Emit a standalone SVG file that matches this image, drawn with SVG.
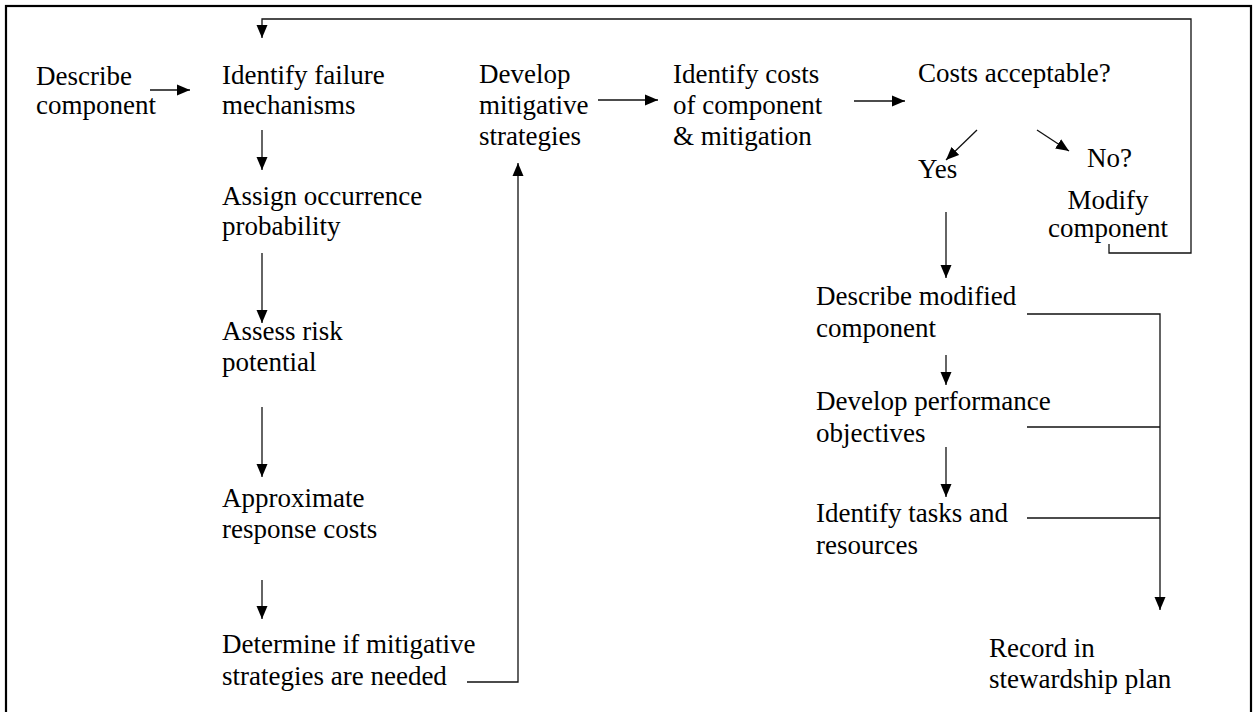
<svg xmlns="http://www.w3.org/2000/svg" width="1254" height="712" viewBox="0 0 1254 712">
  <defs>
    <marker id="head" markerUnits="userSpaceOnUse" markerWidth="14" markerHeight="12" refX="13" refY="6" orient="auto">
      <path d="M0,0.5 L13,6 L0,11.5 z" fill="#000"/>
    </marker>
    <style>
      text { font-family: "Liberation Serif", "Times New Roman", serif; font-size: 27px; fill: #000; }
      .link { fill: none; stroke: #111; stroke-width: 1.3; }
      .arrow { marker-end: url(#head); }
    </style>
  </defs>

  <rect x="0" y="0" width="1254" height="712" fill="#fff"/>
  <!-- outer frame; its lower edge runs past the page -->
  <rect x="6" y="6" width="1245" height="714" fill="none" stroke="#000" stroke-width="2.2"/>

  <g id="connectors">
    <line class="link arrow" x1="150" y1="90" x2="190" y2="90"/>
    <polyline class="link arrow" points="1109,244 1109,253 1191,253 1191,19 262,19 262,38"/>
    <line class="link arrow" x1="262" y1="130" x2="262" y2="170"/>
    <line class="link arrow" x1="262" y1="253" x2="262" y2="323"/>
    <line class="link arrow" x1="262" y1="407" x2="262" y2="477"/>
    <line class="link arrow" x1="262" y1="580" x2="262" y2="619"/>
    <polyline class="link arrow" points="467,682 518,682 518,163"/>
    <line class="link arrow" x1="598" y1="100" x2="658" y2="100"/>
    <line class="link arrow" x1="854" y1="101" x2="905" y2="101"/>
    <line class="link arrow" x1="977" y1="130" x2="946" y2="160"/>
    <line class="link arrow" x1="1037" y1="130" x2="1069" y2="151"/>
    <line class="link arrow" x1="946" y1="212" x2="946" y2="278"/>
    <line class="link arrow" x1="946" y1="355" x2="946" y2="385"/>
    <line class="link arrow" x1="946" y1="447" x2="946" y2="497"/>
    <polyline class="link arrow" points="1027,314 1160,314 1160,610"/>
    <line class="link" x1="1027" y1="427" x2="1160" y2="427"/>
    <line class="link" x1="1027" y1="518" x2="1160" y2="518"/>
  </g>

  <g id="describe-component">
    <text x="36" y="85">Describe</text>
    <text x="36" y="114">component</text>
  </g>
  <g id="identify-failure">
    <text x="222" y="84">Identify failure</text>
    <text x="222" y="114">mechanisms</text>
  </g>
  <g id="assign-probability">
    <text x="222" y="205">Assign occurrence</text>
    <text x="222" y="235">probability</text>
  </g>
  <g id="assess-risk">
    <text x="222" y="340">Assess risk</text>
    <text x="222" y="371">potential</text>
  </g>
  <g id="approximate-costs">
    <text x="222" y="507">Approximate</text>
    <text x="222" y="538">response costs</text>
  </g>
  <g id="determine-mitigation">
    <text x="222" y="653">Determine if mitigative</text>
    <text x="222" y="685">strategies are needed</text>
  </g>
  <g id="develop-mitigation">
    <text x="479" y="83">Develop</text>
    <text x="479" y="114">mitigative</text>
    <text x="479" y="145">strategies</text>
  </g>
  <g id="identify-costs">
    <text x="673" y="83">Identify costs</text>
    <text x="673" y="114">of component</text>
    <text x="673" y="145">&amp; mitigation</text>
  </g>
  <g id="costs-acceptable">
    <text x="918" y="82">Costs acceptable?</text>
  </g>
  <g id="yes">
    <text x="918" y="178">Yes</text>
  </g>
  <g id="no">
    <text x="1087" y="167">No?</text>
  </g>
  <g id="modify-component">
    <text x="1108" y="209" text-anchor="middle">Modify</text>
    <text x="1108" y="237" text-anchor="middle">component</text>
  </g>
  <g id="describe-modified">
    <text x="816" y="305">Describe modified</text>
    <text x="816" y="337">component</text>
  </g>
  <g id="performance-objectives">
    <text x="816" y="410">Develop performance</text>
    <text x="816" y="442">objectives</text>
  </g>
  <g id="tasks-resources">
    <text x="816" y="522">Identify tasks and</text>
    <text x="816" y="554">resources</text>
  </g>
  <g id="stewardship-plan">
    <text x="989" y="657">Record in</text>
    <text x="989" y="688">stewardship plan</text>
  </g>
</svg>
